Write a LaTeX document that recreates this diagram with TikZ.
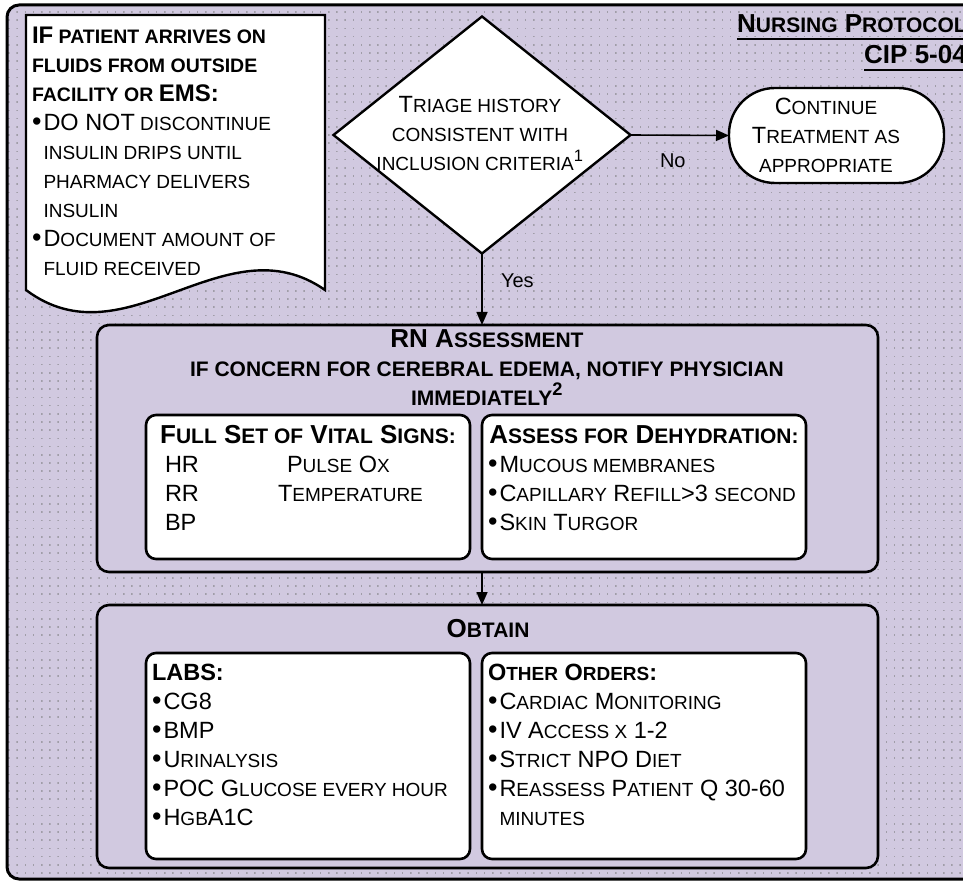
\documentclass[tikz,border=0pt]{standalone}
\usepackage{fontspec}
\setmainfont{Liberation Sans}
\usetikzlibrary{arrows.meta,patterns,shapes.geometric}
\definecolor{lav}{RGB}{209,201,224}
\definecolor{dotc}{RGB}{160,157,168}
\pgfdeclarepatternformonly{gdots}{\pgfqpoint{0pt}{0pt}}{\pgfqpoint{1.5pt}{1.5pt}}{\pgfqpoint{8.2pt}{8.2pt}}{\pgfpathrectangle{\pgfqpoint{0pt}{0pt}}{\pgfqpoint{1.5pt}{1.5pt}}\pgfusepath{fill}}
\newcommand\RL{\fontsize{23.5}{29}\selectfont}
\newcommand\rs[1]{{\fontsize{19}{29}\selectfont #1}}
\newcommand\BL{\bfseries\fontsize{26}{29}\selectfont}
\newcommand\bs[1]{{\fontsize{21}{29}\selectfont #1}}
\newcommand\DL{\bfseries\fontsize{24}{29}\selectfont}
\newcommand\ds[1]{{\fontsize{19.5}{29}\selectfont #1}}
\newcommand\bul{\makebox[11.5pt][l]{\scalebox{1.15}{\textbullet}}}
\begin{document}
\begin{tikzpicture}[x=1pt,y=-1pt,
  txt/.style={inner sep=0pt, outer sep=0pt, align=left, anchor=base west, font=\RL},
  ctxt/.style={inner sep=0pt, outer sep=0pt, align=center, anchor=base, font=\RL},
  bigbox/.style={draw, line width=2.6pt, fill=lav, rounded corners=12pt, inner sep=0pt, outer sep=0pt, anchor=north west},
  inbox/.style={draw, line width=2.6pt, fill=white, rounded corners=10pt, inner sep=0pt, outer sep=0pt, anchor=north west},
  arr/.style={line width=1.6pt, -{Triangle[length=13pt,width=11pt]}}]
\useasboundingbox (0,0) rectangle (963,882);
% background frame
\path[fill=lav, rounded corners=12pt] (7,5) rectangle (990,879);
\path[pattern=gdots, pattern color=dotc, rounded corners=12pt] (7,5) rectangle (990,879);
\draw[line width=3pt, rounded corners=12pt] (7,5) rectangle (990,879);
% title
\node[inner sep=0pt, anchor=base east, font=\BL] (t1) at (967,33) {N\bs{URSING} P\bs{ROTOCOL}};
\node[inner sep=0pt, anchor=base east, font=\BL] (t2) at (967,64) {CIP 5-04};
\draw[line width=2pt] ([yshift=-6pt]t1.base west) -- ([yshift=-6pt]t1.base east);
\draw[line width=2pt] ([yshift=-6pt]t2.base west) -- ([yshift=-6pt]t2.base east);
% document shape
\path[fill=white, draw=black, line width=2.4pt] (26,15) -- (325,15) -- (325,290) .. controls (225,220) and (126,365) .. (26,290) -- cycle;
\node[txt] (doc) at (32,276) {{\DL IF\ds{ PATIENT ARRIVES ON}}\\
{\DL\ds{FLUIDS FROM OUTSIDE}}\\
{\DL\ds{FACILITY OR }EMS:}\\
\bul DO NOT\rs{ DISCONTINUE}\\
\hphantom{\bul}\rs{INSULIN DRIPS UNTIL}\\
\hphantom{\bul}\rs{PHARMACY DELIVERS}\\
\hphantom{\bul}\rs{INSULIN}\\
\bul D\rs{OCUMENT AMOUNT OF}\\
\hphantom{\bul}\rs{FLUID RECEIVED}};
% decision
\node[diamond, draw, fill=white, line width=2.4pt, minimum width=297pt, minimum height=237pt, inner sep=0pt, outer sep=0pt] (dia) at (482,135) {};
\node[ctxt] (diat) at (480,171) {T\rs{RIAGE HISTORY}\\ \rs{CONSISTENT WITH}\\ \rs{INCLUSION CRITERIA}\textsuperscript{1}};
\node[draw, fill=white, line width=2.4pt, rounded corners=46pt, minimum width=215pt, minimum height=95pt, inner sep=0pt, outer sep=0pt] (cont) at (836.5,135.5) {};
\node[ctxt] (contt) at (826,173) {C\rs{ONTINUE}\\ T\rs{REATMENT AS}\\ \rs{APPROPRIATE}};
\draw[arr] (dia.east) -- (cont.west);
\node[txt, font=\fontsize{20}{24}\selectfont] (no) at (660,168) {No};
\node[txt, font=\fontsize{20}{24}\selectfont] (yes) at (501,288) {Yes};
% RN assessment
\node[bigbox, minimum width=781pt, minimum height=247pt] (rn) at (97,325) {};
\node[ctxt] (rnt) at (487,405) {{\BL RN A\bs{SSESSMENT}}\\ {\BL\bs{IF CONCERN FOR CEREBRAL EDEMA, NOTIFY PHYSICIAN}}\\ {\BL\bs{IMMEDIATELY}\textsuperscript{2}}};
\node[inbox, minimum width=324pt, minimum height=144pt] (vit) at (146,415) {};
\node[inbox, minimum width=324pt, minimum height=144pt] (deh) at (482,415) {};
\node[ctxt] (vith) at (308,443) {{\BL F\bs{ULL} S\bs{ET OF} V\bs{ITAL} S\bs{IGNS:}}};
\node[ctxt] (dehh) at (644,443) {{\BL A\bs{SSESS FOR} D\bs{EHYDRATION:}}};
\node[txt] (vitt) at (165,530) {\makebox[122pt][l]{HR}P\rs{ULSE} O\rs{X}\\ \makebox[113pt][l]{RR}T\rs{EMPERATURE}\\ BP};
\node[txt] (deht) at (488,530) {\bul M\rs{UCOUS MEMBRANES}\\ \bul C\rs{APILLARY} R\rs{EFILL}>3 \rs{SECOND}\\ \bul S\rs{KIN} T\rs{URGOR}};
% obtain
\node[bigbox, minimum width=781pt, minimum height=263pt] (ob) at (97,605) {};
\draw[arr] (dia.south) -- (dia.south |- rn.north);
\draw[arr] (dia.south |- rn.south) -- (dia.south |- ob.north);
\node[ctxt] (obt) at (488,637) {{\BL O\bs{BTAIN}}};
\node[inbox, minimum width=324pt, minimum height=206pt] (lab) at (146,653) {};
\node[inbox, minimum width=324pt, minimum height=206pt] (oth) at (482,653) {};
\node[txt] (labt) at (152,825) {{\bfseries LABS:}\\ \bul CG8\\ \bul BMP\\ \bul U\rs{RINALYSIS}\\ \bul POC G\rs{LUCOSE EVERY HOUR}\\ \bul H\rs{GB}A1C};
\node[txt] (otht) at (488,825) {{\bfseries O\rs{THER} O\rs{RDERS}:}\\ \bul C\rs{ARDIAC} M\rs{ONITORING}\\ \bul IV A\rs{CCESS X} 1-2\\ \bul S\rs{TRICT} NPO D\rs{IET}\\ \bul R\rs{EASSESS} P\rs{ATIENT} Q 30-60\\ \hphantom{\bul}\rs{MINUTES}};
\end{tikzpicture}
\end{document}
